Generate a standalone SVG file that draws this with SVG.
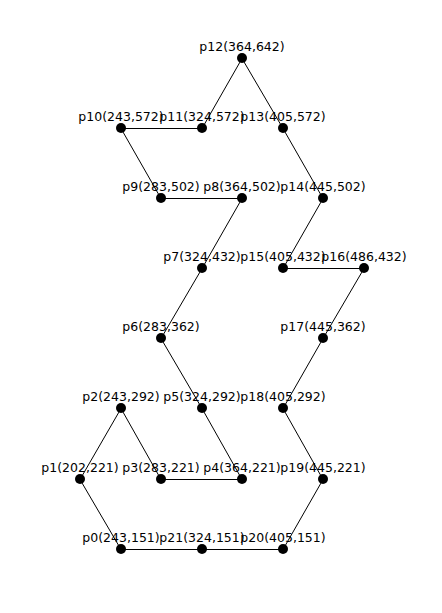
<svg xmlns="http://www.w3.org/2000/svg" width="442" height="613" viewBox="0 0 442 613">
<style>
.e{stroke:#000;stroke-width:1;fill:none}
.n circle{fill:#000}
.n text{font-family:"DejaVu Sans",sans-serif;font-size:12.5px;text-anchor:middle;fill:#000}
</style>
<rect width="442" height="613" fill="#fff"/>
<g transform="translate(0,1)">
<g id="edges" class="e" transform="translate(0,0.5)">
<path d="M121,548 L202,548 L283,548 L323,478 L283,407 L323,337 L364,267 L283,267 L323,197 L283,127 L242,57 L202,127 L121,127 L161,197 L242,197 L202,267 L161,337 L202,407 L242,478 L161,478 L121,407 L80,478 Z"/>
</g>
<g id="p0" class="n"><circle cx="121" cy="548" r="5"/><text x="121" y="541">p0(243,151)</text></g>
<g id="p1" class="n"><circle cx="80" cy="478" r="5"/><text x="80" y="471">p1(202,221)</text></g>
<g id="p2" class="n"><circle cx="121" cy="407" r="5"/><text x="121" y="400">p2(243,292)</text></g>
<g id="p3" class="n"><circle cx="161" cy="478" r="5"/><text x="161" y="471">p3(283,221)</text></g>
<g id="p4" class="n"><circle cx="242" cy="478" r="5"/><text x="242" y="471">p4(364,221)</text></g>
<g id="p5" class="n"><circle cx="202" cy="407" r="5"/><text x="202" y="400">p5(324,292)</text></g>
<g id="p6" class="n"><circle cx="161" cy="337" r="5"/><text x="161" y="330">p6(283,362)</text></g>
<g id="p7" class="n"><circle cx="202" cy="267" r="5"/><text x="202" y="260">p7(324,432)</text></g>
<g id="p8" class="n"><circle cx="242" cy="197" r="5"/><text x="242" y="190">p8(364,502)</text></g>
<g id="p9" class="n"><circle cx="161" cy="197" r="5"/><text x="161" y="190">p9(283,502)</text></g>
<g id="p10" class="n"><circle cx="121" cy="127" r="5"/><text x="121" y="120">p10(243,572)</text></g>
<g id="p11" class="n"><circle cx="202" cy="127" r="5"/><text x="202" y="120">p11(324,572)</text></g>
<g id="p12" class="n"><circle cx="242" cy="57" r="5"/><text x="242" y="50">p12(364,642)</text></g>
<g id="p13" class="n"><circle cx="283" cy="127" r="5"/><text x="283" y="120">p13(405,572)</text></g>
<g id="p14" class="n"><circle cx="323" cy="197" r="5"/><text x="323" y="190">p14(445,502)</text></g>
<g id="p15" class="n"><circle cx="283" cy="267" r="5"/><text x="283" y="260">p15(405,432)</text></g>
<g id="p16" class="n"><circle cx="364" cy="267" r="5"/><text x="364" y="260">p16(486,432)</text></g>
<g id="p17" class="n"><circle cx="323" cy="337" r="5"/><text x="323" y="330">p17(445,362)</text></g>
<g id="p18" class="n"><circle cx="283" cy="407" r="5"/><text x="283" y="400">p18(405,292)</text></g>
<g id="p19" class="n"><circle cx="323" cy="478" r="5"/><text x="323" y="471">p19(445,221)</text></g>
<g id="p20" class="n"><circle cx="283" cy="548" r="5"/><text x="283" y="541">p20(405,151)</text></g>
<g id="p21" class="n"><circle cx="202" cy="548" r="5"/><text x="202" y="541">p21(324,151)</text></g>
</g>
</svg>
